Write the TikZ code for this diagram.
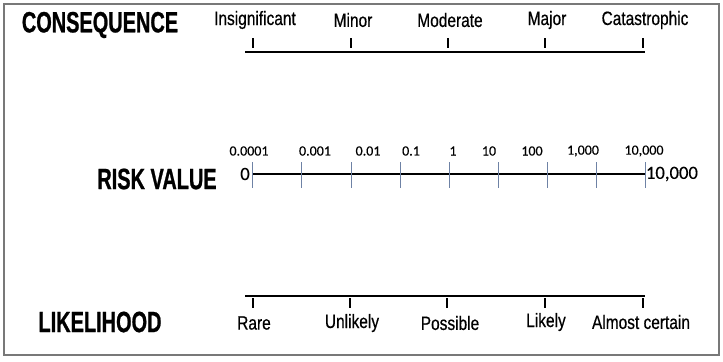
\documentclass[tikz,border=0pt]{standalone}
\usepackage{fontspec}
\setmainfont{Liberation Sans}
\newfontfamily\titlefont[FakeStretch=0.68,FakeBold=0.8]{Liberation Sans}
\newfontfamily\labfont[FakeStretch=0.8,FakeBold=0.5]{Liberation Sans}
\newfontfamily\numfont[FakeBold=0.3]{Carlito}
\definecolor{framegray}{RGB}{120,120,120}
\definecolor{tickblue}{RGB}{110,130,165}
\begin{document}
\begin{tikzpicture}[x=0.75pt,y=-0.75pt,
  title/.style={font=\titlefont\bfseries\fontsize{22}{24}\selectfont, inner sep=0pt},
  lab/.style={font=\labfont\fontsize{14.5}{16}\selectfont, inner sep=0pt},
  num/.style={font=\numfont\fontsize{10.5}{12}\selectfont, inner sep=0pt},
  bignum/.style={font=\numfont\fontsize{14}{16}\selectfont, inner sep=0pt},
  axis/.style={line width=2.2pt, black},
  blacktick/.style={line width=1.4pt, black},
  bluetick/.style={line width=0.6pt, tickblue},
  frame/.style={line width=1.5pt, framegray}]
\useasboundingbox (0,0) rectangle (723,361);
\draw[frame] (4,4) rectangle (719,355);

% titles
\node[title] (tcons) at (100,25) {CONSEQUENCE};
\node[title] (trisk) at (157,179) {RISK VALUE};
\node[title] (tlike) at (100,322) {LIKELIHOOD};

% consequence axis
\coordinate (cA) at (245,52);
\coordinate (cB) at (645,52);
\draw[axis] (cA) -- (cB);
\foreach \x/\t [count=\i] in {253/Insignificant,351/Minor,448/Moderate,545/Major,643/Catastrophic}{
  \coordinate (ct\i a) at (\x,38);
  \coordinate (ct\i b) at (\x,48);
  \draw[blacktick] (ct\i a) -- (ct\i b);
  \node[lab] (cl\i) at (\x+2,20) {\t};
}

% risk value axis
\coordinate (rA) at (252,174);
\coordinate (rB) at (645,174);
\draw[axis] (rA) -- (rB);
\foreach \x [count=\i] in {252,301,351,400,449,498,547,596,645}{
  \coordinate (rt\i a) at (\x,162);
  \coordinate (rt\i b) at (\x,188);
  \draw[bluetick] (rt\i a) -- (rt\i b);
}
\foreach \x/\t [count=\i] in {249/0.0001,315/0.001,368/0.01,411/0.1,453/1,489/10,532/100,583/1{,}000,644/10{,}000}{
  \node[num] (rl\i) at (\x,151) {\t};
}
\node[bignum, anchor=east] (rzero) at ([xshift=-1.5pt]rA) {0};
\node[bignum, anchor=west] (rmax) at ([xshift=0.5pt]rB) {10,000};

% likelihood axis
\coordinate (lA) at (245,296);
\coordinate (lB) at (645,296);
\draw[axis] (lA) -- (lB);
\foreach \x [count=\i] in {253,350,447,545,643}{
  \coordinate (lt\i a) at (\x,298);
  \coordinate (lt\i b) at (\x,308);
  \draw[blacktick] (lt\i a) -- (lt\i b);
}
\node[lab] (ll1) at (254,323) {Rare};
\node[lab] (ll2) at (352,323) {Unlikely};
\node[lab] (ll3) at (450,323) {Possible};
\node[lab] (ll4) at (546,322) {Likely};
\node[lab] (ll5) at (641,322) {Almost certain};
\end{tikzpicture}
\end{document}
